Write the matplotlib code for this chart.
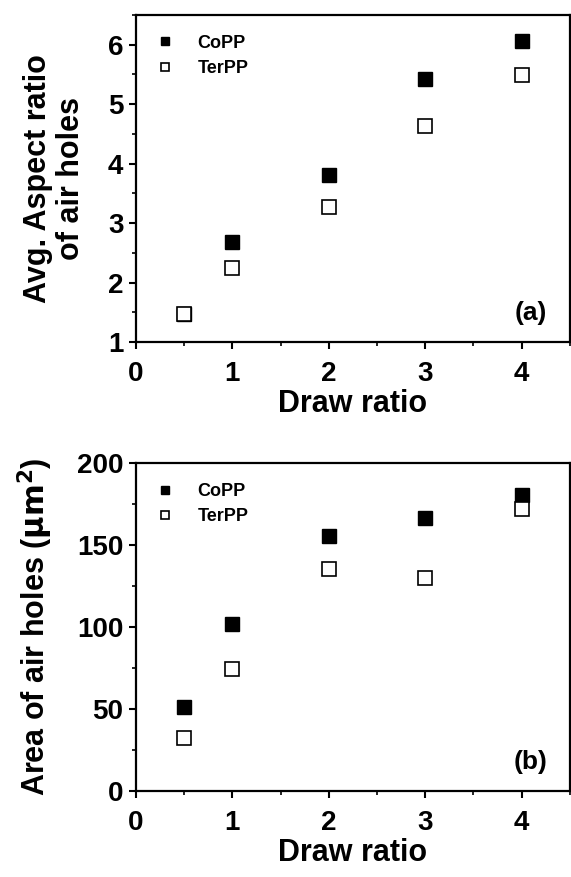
import matplotlib
matplotlib.use('Agg')
import matplotlib.pyplot as plt
from matplotlib.ticker import MultipleLocator

plt.rcParams['font.family'] = ['Liberation Sans', 'DejaVu Sans']
plt.rcParams['font.weight'] = 'bold'

draw_ratio = [0.5, 1, 2, 3, 4]

# panel (a): average aspect ratio of air holes
aspect_copp = [1.47, 2.69, 3.80, 5.43, 6.06]
aspect_terpp = [1.47, 2.24, 3.27, 4.64, 5.49]

# panel (b): area of air holes, um^2
area_copp = [51.4, 101.6, 155.5, 166.7, 180.5]
area_terpp = [32.5, 74.2, 135.2, 129.7, 172.0]

fig = plt.figure(figsize=(5.71, 8.77), dpi=100)
ax1 = fig.add_axes([0.238, 0.610, 0.760, 0.373])
ax2 = fig.add_axes([0.238, 0.098, 0.760, 0.374])


def style(ax, ylim, ymaj, ymin, tag):
    ax.set_xlim(0, 4.5)
    ax.set_ylim(*ylim)
    ax.xaxis.set_major_locator(MultipleLocator(1))
    ax.xaxis.set_minor_locator(MultipleLocator(0.5))
    ax.yaxis.set_major_locator(MultipleLocator(ymaj))
    ax.yaxis.set_minor_locator(MultipleLocator(ymin))
    ax.tick_params(which='major', direction='out', length=5, width=1.5,
                   labelsize=20, pad=4)
    ax.tick_params(axis='x', which='major', pad=9)
    ax.tick_params(which='minor', direction='out', length=3, width=1.2)
    for s in ax.spines.values():
        s.set_linewidth(1.6)
    ax.set_xlabel('Draw ratio', fontsize=22, fontweight='bold', labelpad=1)
    ax.text(0.91, 0.09, tag, transform=ax.transAxes, fontsize=19,
            fontweight='bold', ha='center', va='center')
    leg = ax.legend(loc='upper left', frameon=False, fontsize=13,
                    handletextpad=1.3, borderaxespad=0.7, labelspacing=0.45,
                    markerscale=0.5, handlelength=1.0)
    for t in leg.get_texts():
        t.set_fontweight('bold')


for ax, copp, terpp in [(ax1, aspect_copp, aspect_terpp),
                        (ax2, area_copp, area_terpp)]:
    ax.plot(draw_ratio, copp, 's', ms=10.5, mfc='black', mec='black',
            label='CoPP')
    ax.plot(draw_ratio, terpp, 's', ms=10.5, mfc='white', mec='black',
            mew=1.2, label='TerPP')

style(ax1, (1, 6.5), 1, 0.5, '(a)')
style(ax2, (0, 200), 50, 25, '(b)')

ax1.set_ylabel('Avg. Aspect ratio\nof air holes', fontsize=22,
               fontweight='bold', linespacing=1.1, labelpad=16)
ax2.set_ylabel(r'Area of air holes ($\mathbf{\mu m^2}$)', fontsize=22,
               fontweight='bold', labelpad=16)

fig.savefig('out.png', dpi=100)
